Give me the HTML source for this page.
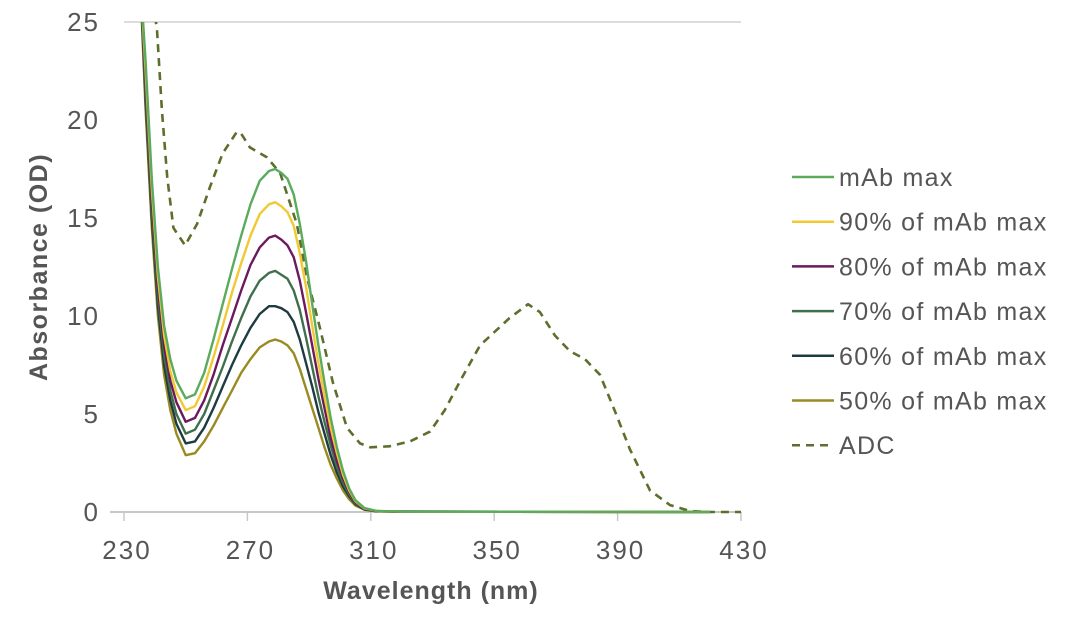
<!DOCTYPE html>
<html><head><meta charset="utf-8"><style>
html,body{margin:0;padding:0;background:#fff;}
svg{display:block;font-family:"Liberation Sans",sans-serif;}
</style></head><body>
<svg id="chart" width="1080" height="628">
<line x1="124" y1="22" x2="741" y2="22" stroke="#d0d0d0" stroke-width="1.5"/>
<line x1="110" y1="512" x2="741" y2="512" stroke="#c8c8c8" stroke-width="2"/>
<g id="xticks"></g>
<g id="yticks"></g>
<g id="series"></g>
<text x="431" y="599" text-anchor="middle" font-size="25" font-weight="bold" letter-spacing="1" fill="#555">Wavelength (nm)</text>
<text transform="translate(47,267) rotate(-90)" text-anchor="middle" font-size="25" font-weight="bold" letter-spacing="1.5" fill="#555">Absorbance (OD)</text>
<g id="legend"></g>
</svg>
<script>
const wl = [235,237,239,241,243,245,247,250,253,256,259,262,265,268,271,274,277,279,281,283,285,287,289,291,293,295,297,299,301,303,305,308,312,320,420];
const mabMax = [28,23,17,12.5,9.5,7.8,6.7,5.8,6.0,7.1,8.8,10.6,12.4,14.1,15.7,16.9,17.4,17.5,17.3,17.0,16.2,14.7,12.8,10.6,8.5,6.6,4.8,3.3,2.1,1.2,0.6,0.2,0.05,0.02,0];
const mab90 = [28,22.5,16.5,12,9,7.2,6.1,5.2,5.4,6.4,7.9,9.5,11.2,12.7,14.1,15.2,15.7,15.8,15.6,15.3,14.6,13.2,11.5,9.5,7.6,5.9,4.3,3.0,1.9,1.1,0.55,0.18,0.05,0.02,0];
const mab80 = [28,22,16,11.5,8.5,6.7,5.6,4.6,4.8,5.7,7.0,8.5,9.9,11.3,12.6,13.5,14.0,14.1,13.9,13.6,13.0,11.8,10.2,8.5,6.8,5.3,3.8,2.6,1.7,1.0,0.5,0.16,0.04,0.02,0];
const mab70 = [28,21.5,15.5,11,8,6.2,5.0,4.0,4.2,5.0,6.2,7.4,8.7,9.9,11.0,11.8,12.2,12.3,12.1,11.9,11.3,10.3,8.9,7.4,5.9,4.6,3.4,2.3,1.5,0.9,0.45,0.15,0.04,0.02,0];
const mab60 = [28,21,15,10.5,7.5,5.7,4.5,3.5,3.6,4.3,5.3,6.4,7.5,8.5,9.4,10.1,10.5,10.5,10.4,10.2,9.7,8.8,7.6,6.4,5.1,4.0,2.9,2.0,1.3,0.8,0.4,0.13,0.04,0.02,0];
const mab50 = [28,20.5,14.5,10,7,5.2,4.0,2.9,3.0,3.6,4.4,5.3,6.2,7.1,7.8,8.4,8.7,8.8,8.7,8.5,8.1,7.3,6.3,5.3,4.3,3.3,2.4,1.7,1.1,0.65,0.33,0.11,0.03,0.02,0];
const adcWl = [239.5,240.7,242.3,244,246,249.8,253.7,257.9,262,266.6,268,270.8,276.3,280.6,286,289.3,293.5,297.7,302.3,306.5,309.8,316,322.7,329.2,334,339,345.4,355,361,364.8,369.7,374.6,379.4,384.3,389,394,400.5,407,413.5,420,430];
const adcVals = [26,24.6,20.5,17.1,14.5,13.6,14.7,16.6,18.3,19.4,19.3,18.6,18.1,17.3,14.7,12.0,9.4,6.6,4.3,3.5,3.3,3.35,3.6,4.1,5.2,6.7,8.5,9.9,10.6,10.2,9.0,8.2,7.8,7.0,5.2,3.2,1.1,0.35,0.05,0,0];
const xTicks = [230,270,310,350,390,430];
const yTicks = [0,5,10,15,20,25];
const seriesNames = ["mAb max","90% of mAb max","80% of mAb max","70% of mAb max","60% of mAb max","50% of mAb max","ADC"];
const seriesColors = ["#5aab5c","#f1c935","#6b1a5e","#3f6f4c","#1e3b42","#9a8a22","#5d6f2c"];

const NS="http://www.w3.org/2000/svg";
const X0=124,X1=741,Y0=512,Y1=22;
const xs=w=>X0+(w-230)/(430-230)*(X1-X0);
const ys=v=>Y0-v/25*(Y0-Y1);
function mk(t,a,p){const e=document.createElementNS(NS,t);for(const k in a)e.setAttribute(k,a[k]);p.appendChild(e);return e;}

const xg=document.getElementById('xticks');
xTicks.forEach(t=>{
  const l=mk('line',{x1:xs(t),x2:xs(t),y1:Y0,y2:Y0+9,stroke:'#c8c8c8','stroke-width':1.5},xg);
  
  
  const tx=mk('text',{x:xs(t)+3,y:559,'text-anchor':'middle','font-size':26,'letter-spacing':2,fill:'#555'},xg);
  tx.textContent=t;
  
  
});
const yg=document.getElementById('yticks');
yTicks.forEach(t=>{
  const tx=mk('text',{x:100,y:ys(t)+9,'text-anchor':'end','font-size':26,'letter-spacing':2,fill:'#555'},yg);
  tx.textContent=t;
  
  
});

const sg=document.getElementById('series');
const defs=mk('defs',{},document.getElementById('chart'));
const cp=mk('clipPath',{id:'clip'},defs);
mk('rect',{x:X0,y:Y1,width:X1-X0,height:Y0-Y1+2},cp);
sg.setAttribute('clip-path','url(#clip)');
function path(xsArr,vals,color,dash,name){
  const d=xsArr.map((w,i)=>(i?'L':'M')+xs(w).toFixed(1)+','+ys(vals[i]).toFixed(1)).join(' ');
  const p=mk('path',{d:d,fill:'none',stroke:color,'stroke-width':dash?2.6:2.4,'stroke-linejoin':'round'},sg);
  if(dash)p.setAttribute('stroke-dasharray','8,6');
  
  
}
const mabSeries=[mabMax,mab90,mab80,mab70,mab60,mab50];
const mabIds=['mab-max-line','mab-90-line','mab-80-line','mab-70-line','mab-60-line','mab-50-line'];
path(adcWl,adcVals,seriesColors[6],true,'adc-line');
for(let i=5;i>=0;i--)path(wl,mabSeries[i],seriesColors[i],false,mabIds[i]);

const lg=document.getElementById('legend');
seriesNames.forEach((n,i)=>{
  const y=177+i*44.7;
  const l=mk('line',{x1:792,x2:834,y1:y,y2:y,stroke:seriesColors[i],'stroke-width':2.5},lg);
  if(i==6)l.setAttribute('stroke-dasharray','8,6');
  
  
  const t=mk('text',{x:839,y:y+9,'font-size':25,'letter-spacing':1.3,fill:'#555'},lg);
  t.textContent=n;
  
  
});
</script>
</body></html>
